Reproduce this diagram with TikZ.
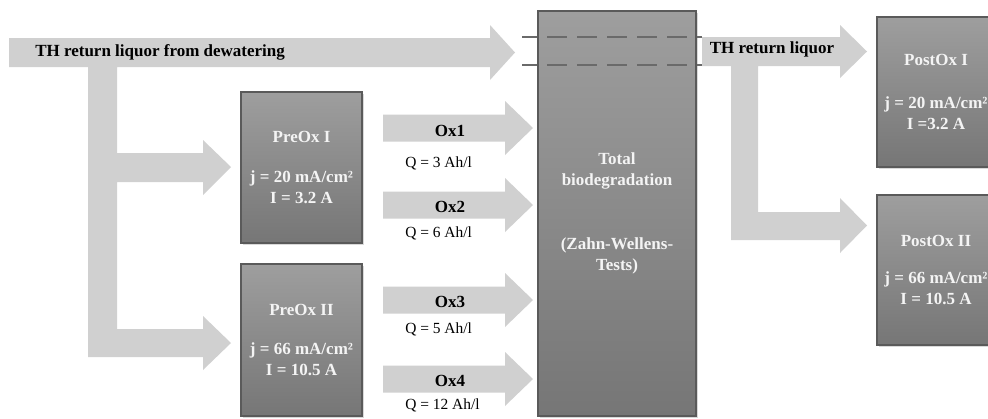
\documentclass[tikz,border=0pt]{standalone}
\usepackage{fontspec}
\setmainfont{Liberation Serif}
\usetikzlibrary{shadows}
\definecolor{arrowgray}{HTML}{D0D0D0}
\definecolor{boxtop}{HTML}{9E9E9E}
\definecolor{boxbot}{HTML}{767676}
\definecolor{boxline}{HTML}{5A5A5A}
\definecolor{dashgray}{HTML}{6A6A6A}
\definecolor{boxtext}{HTML}{F4F4F4}
\begin{document}
\begin{tikzpicture}[x=0.75pt,y=-0.75pt,
  flow/.style={fill=arrowgray, draw=none},
  procbox/.style={draw=boxline, line width=0.8pt, top color=boxtop, bottom color=boxbot,
    inner sep=0pt, outer sep=0pt, anchor=north west, text=boxtext, align=center,
    font=\bfseries\fontsize{12.75}{15.75}\selectfont,
    drop shadow={shadow xshift=1.2pt, shadow yshift=-1.2pt, opacity=0.3}},
  biglabel/.style={font=\bfseries\fontsize{12.75}{15}\selectfont, inner sep=0pt},
  qlabel/.style={font=\fontsize{11.6}{14}\selectfont, anchor=west, inner sep=0pt},
  dashline/.style={draw=dashgray, line width=1.1pt, dash pattern=on 15pt off 7.5pt, dash phase=3.75pt}]
\useasboundingbox (0,0) rectangle (988,418);
\clip (0,0) rectangle (988,418);

% main input arrow with branches
\fill[flow] (9,38) -- (490,38) -- (490,25) -- (515,52.5) -- (490,80) -- (490,67)
  -- (117,67) -- (117,153) -- (203,153) -- (203,140) -- (231,167) -- (203,195) -- (203,182)
  -- (117,182) -- (117,329) -- (203,329) -- (203,316) -- (231,343) -- (203,370) -- (203,357)
  -- (88,357) -- (88,67) -- (9,67) -- cycle;

% Ox arrows
\foreach \c in {128,205,300,379}{
  \fill[flow] (383,\c-13.5) -- (505,\c-13.5) -- (505,\c-27) -- (533,\c) -- (505,\c+27)
    -- (505,\c+13.5) -- (383,\c+13.5) -- cycle;
}

% output arrow with branch
\fill[flow] (702,37) -- (840,37) -- (840,25) -- (867,51.5) -- (840,78) -- (840,66)
  -- (758,66) -- (758,212) -- (840,212) -- (840,198) -- (867,225.5) -- (840,253) -- (840,240)
  -- (731,240) -- (731,66) -- (702,66) -- cycle;

% boxes
\node[procbox, minimum width=90.75pt, minimum height=113.25pt] (preox1) at (241,92)
  {PreOx I\\[14pt]j = 20 mA/cm²\\I = 3.2 A};
\node[procbox, minimum width=90.75pt, minimum height=114pt] (preox2) at (241,264)
  {PreOx II\\[14pt]j = 66 mA/cm²\\I = 10.5 A};
\node[procbox, minimum width=118.5pt, minimum height=303.75pt] (total) at (538,11)
  {Total\\biodegradation\\[32pt](Zahn-Wellens-\\Tests)};
\node[procbox, minimum width=88.5pt, minimum height=112.5pt] (postox1) at (877,17)
  {PostOx I\\[16pt]j = 20 mA/cm²\\I =3.2 A};
\node[procbox, minimum width=88.5pt, minimum height=112.5pt] (postox2) at (877,195)
  {PostOx II\\[12pt]j = 66 mA/cm²\\I = 10.5 A};

% dashed lines across the biodegradation box
\coordinate (d1a) at (522,37);
\coordinate (d1b) at (702,37);
\coordinate (d2a) at (522,65);
\coordinate (d2b) at (702,65);
\draw[dashline] (d1a) -- (d1b);
\draw[dashline] (d2a) -- (d2b);

% labels
\node[biglabel, anchor=west] (thin) at (35,52) {TH return liquor from dewatering};
\node[biglabel] (thout) at (772,49) {TH return liquor};
\node[biglabel] (ox1) at (450,131) {Ox1};
\node[biglabel] (ox2) at (450,207) {Ox2};
\node[biglabel] (ox3) at (450,302) {Ox3};
\node[biglabel] (ox4) at (450,381) {Ox4};
\node[qlabel] (q1) at (405,163) {Q = 3 Ah/l};
\node[qlabel] (q2) at (405,233) {Q = 6 Ah/l};
\node[qlabel] (q3) at (405,329) {Q = 5 Ah/l};
\node[qlabel] (q4) at (405,405) {Q = 12 Ah/l};
\end{tikzpicture}
\end{document}
